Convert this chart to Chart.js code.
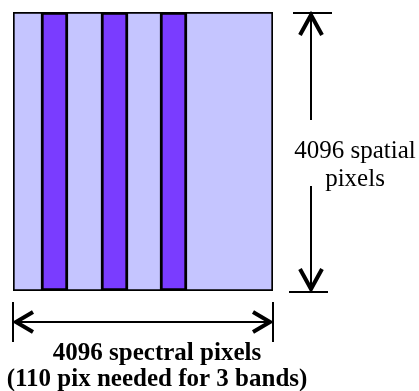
<!DOCTYPE html>
<html>
<head>
<meta charset="utf-8">
<script src="https://cdn.jsdelivr.net/npm/chart.js@4"></script>
<style>
  body { margin: 0; background: #fff; }
  canvas { display: block; }
</style>
</head>
<body>
<canvas id="myChart" width="419" height="391"></canvas>
<script>
// detector size, in pixels
const spectralPixels = 4096
const spatialPixels = 4096

// the three bands, start/end column on the detector (spectral pixels)
const bandNames = ['band 1', 'band 2', 'band 3']
const bandStart = [441, 1386, 2316]
const bandEnd = [866, 1812, 2741]

// text labels
const bottomLabel = ['4096 spectral pixels', '(110 pix needed for 3 bands)']
const sideLabel = ['4096 spatial', 'pixels']

const lightFill = '#c5c5ff'
const darkFill = '#7a3cff'

function buildDatasets() {
    let sets = bandNames.map((name, i) => ({
        label: name,
        data: [[bandStart[i], bandEnd[i]]],
        backgroundColor: darkFill,
        borderColor: '#000',
        borderWidth: 3,
        borderSkipped: false
    }))
    // detector background goes last so it is drawn underneath
    sets.push({
        label: 'detector',
        data: [[0, spectralPixels]],
        backgroundColor: lightFill,
        borderColor: '#000',
        borderWidth: 2,
        borderSkipped: false
    })
    return sets
}

function line(ctx, x1, y1, x2, y2, w) {
    ctx.lineWidth = w
    ctx.beginPath()
    ctx.moveTo(x1, y1)
    ctx.lineTo(x2, y2)
    ctx.stroke()
}

function chevron(ctx, tx, ty, dx, dy, ex, ey) {
    ctx.lineWidth = 4
    ctx.beginPath()
    ctx.moveTo(tx + dx, ty + dy)
    ctx.lineTo(tx, ty)
    ctx.lineTo(tx + ex, ty + ey)
    ctx.stroke()
}

const arrows = {
    id: 'arrows',
    afterDraw(chart) {
        const ctx = chart.ctx
        const a = chart.chartArea
        ctx.save()
        ctx.strokeStyle = '#000'
        ctx.fillStyle = '#000'
        ctx.lineJoin = 'miter'

        // horizontal double arrow under the detector
        const hy = a.bottom + 31
        line(ctx, a.left, hy - 20, a.left, hy + 20, 2)
        line(ctx, a.right, hy - 20, a.right, hy + 20, 2)
        line(ctx, a.left + 3, hy, a.right - 3, hy, 2)
        chevron(ctx, a.left + 3, hy, 17, -10, 17, 10)
        chevron(ctx, a.right - 3, hy, -17, -10, -17, 10)

        // vertical arrow to the right
        const vx = a.right + 38
        line(ctx, vx - 18, a.top + 1, vx + 21, a.top + 1, 2)
        line(ctx, vx, a.top + 3, vx, 120, 2)
        chevron(ctx, vx, a.top + 3, -11, 20, 11, 20)
        line(ctx, vx - 22, a.bottom + 1, vx + 17, a.bottom + 1, 2)
        line(ctx, vx, 186, vx, a.bottom - 2, 2)
        chevron(ctx, vx, a.bottom - 2, -11, -20, 11, -20)

        // labels
        ctx.textAlign = 'center'
        ctx.textBaseline = 'alphabetic'
        ctx.font = '25px "Liberation Serif"'
        ctx.fillText(sideLabel[0], 355, 158)
        ctx.fillText(sideLabel[1], 355, 186)
        ctx.font = 'bold 25px "Liberation Serif"'
        ctx.fillText(bottomLabel[0], 157, 360)
        ctx.fillText(bottomLabel[1], 157, 386)
        ctx.restore()
    }
}

new Chart(document.getElementById('myChart'), {
    type: 'bar',
    data: {
        labels: [''],
        datasets: buildDatasets()
    },
    options: {
        responsive: false,
        animation: false,
        indexAxis: 'y',
        grouped: false,
        categoryPercentage: 1,
        barPercentage: 1,
        layout: { padding: { left: 13, top: 12, right: 146, bottom: 100 } },
        plugins: { legend: { display: false }, tooltip: { enabled: false } },
        scales: {
            x: { display: false, min: 0, max: spectralPixels },
            y: { display: false }
        }
    },
    plugins: [arrows]
})
</script>
</body>
</html>
